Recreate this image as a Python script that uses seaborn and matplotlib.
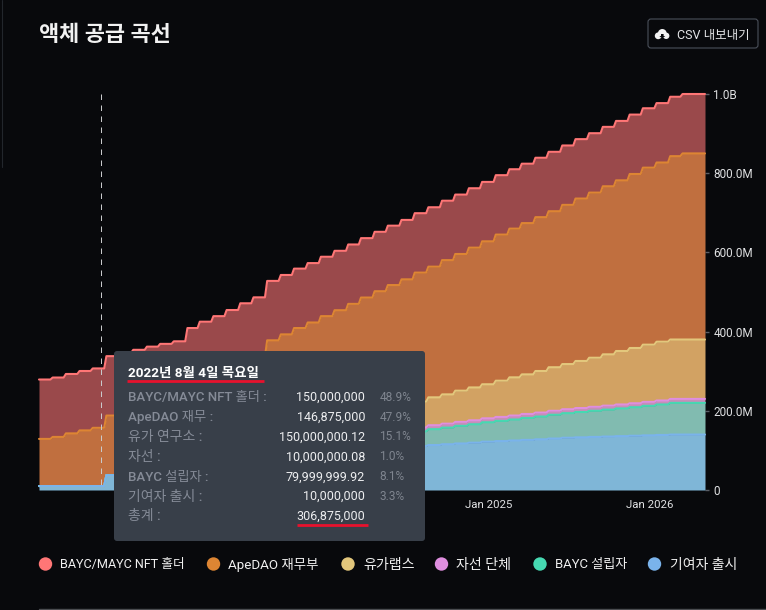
import numpy as np
import pandas as pd
import matplotlib
matplotlib.use("Agg")
import matplotlib.pyplot as plt
import matplotlib.dates as mdates
from matplotlib.patches import FancyBboxPatch, Circle, Polygon
import seaborn as sns

# monthly unlocks in millions, bottom of the stack first
contributors = [10, 10, 10, 10, 10, 37.5, 38, 38.5, 39, 39.5, 40, 62, 64, 66, 68, 70, 72,
                92, 94, 95.5, 97, 98.5, 100, 101.5, 103, 104.5, 106, 108, 111, 113.6, 115.5,
                117.5, 119.5, 122, 123.5, 125, 126.5, 128, 130, 132, 133, 134, 135, 136, 137,
                138, 139, 140, 140]
founders = [0, 0, 0, 0, 0, 0, 0, 0, 0, 0, 0, 2, 4, 6, 8, 10, 12, 14, 16, 18, 20, 22, 24, 26,
            28, 30, 32, 34.5, 37, 40, 42, 44.5, 46.5, 49, 51, 53, 55.5, 57.5, 60, 62, 64, 66,
            68, 70, 72, 74.5, 77, 80, 80]
charity = [0, 0, 0, 0, 0, 0, 0, 0, 0, 0, 0, 0, 10, 10, 10, 10, 10, 10, 10, 10, 10, 10, 10, 10,
           10, 10, 10, 10, 10, 10, 10, 10, 10, 10, 10, 10, 10, 10, 10, 10, 10, 10, 10, 10, 10,
           10, 10, 10, 10]
yuga = [0, 0, 0, 0, 0, 0, 0, 0, 0, 0, 0, 0, 0, 3, 6, 10, 14, 21, 25, 29, 33, 37, 41, 45, 49,
        53, 57, 61, 65, 70.4, 74, 78.8, 83, 86, 91.5, 96.5, 100, 105, 110, 114, 118.8, 124,
        129.6, 135, 139.6, 144.5, 148.5, 150, 150]
apedao = [119, 124, 133, 140.5, 147, 150.5, 158, 165.5, 173, 179.5, 185.5, 195, 197, 204, 212.5,
          221.5, 228.5, 241, 248, 256.5, 263, 271.5, 279, 287.5, 296, 304.5, 312.5, 318.5, 326,
          330, 339, 345.2, 353, 361, 369, 375.5, 382, 388.5, 394, 402, 410.2, 417, 424.4, 431,
          439.4, 447, 452.5, 463, 470]
nft_holders = [150] * 49

series_values = [contributors, founders, charity, yuga, apedao, nft_holders]
series_names = ["기여자 출시", "BAYC 설립자", "자선 단체", "유가랩스", "ApeDAO 재무부", "BAYC/MAYC NFT 홀더"]
line_colors = ["#7AB3EB", "#46D9B2", "#DF8EDF", "#E3C77C", "#DD8533", "#FF7676"]
fill_colors = ["#7FB6D7", "#81BBB0", "#C58FB8", "#D2A263", "#C06F3F", "#9A494B"]

ytick_values = [0, 200, 400, 600, 800, 1000]
ytick_labels = ["0", "200.0M", "400.0M", "600.0M", "800.0M", "1.0B"]
xtick_dates = ["2025-01-01", "2026-01-01"]
xtick_labels = ["Jan 2025", "Jan 2026"]

tooltip_labels = ["BAYC/MAYC NFT 홀더 :", "ApeDAO 재무 :", "유가 연구소 :", "자선 :",
                  "BAYC 설립자 :", "기여자 출시 :", "총계 :"]
tooltip_values = ["150,000,000", "146,875,000", "150,000,000.12", "10,000,000.08",
                  "79,999,999.92", "10,000,000", "306,875,000"]
tooltip_pcts = ["48.9%", "47.9%", "15.1%", "1.0%", "8.1%", "3.3%", ""]

BG = "#08090C"
sns.set_theme(style="dark")
plt.rcParams["font.family"] = ["Roboto", "Noto Sans CJK KR", "DejaVu Sans"]

# step dates: held for a month, then a short ramp up to the next level
start = pd.Timestamp("2022-03-17")
end = pd.Timestamp("2026-05-07")
months = pd.date_range(start, periods=49, freq=pd.DateOffset(months=1))
hold_ends = list(months[1:] - pd.Timedelta(days=5)) + [end]
dates = []
for a, b in zip(months, hold_ends):
    dates += [a, b]
dates = pd.to_datetime(dates)

levels = np.cumsum(np.array(series_values, dtype=float), axis=0)
step_levels = np.repeat(levels, 2, axis=1)

rows = []
for name, lev in zip(series_names, step_levels):
    rows.append(pd.DataFrame({"date": dates, "level": lev, "series": name}))
df = pd.concat(rows, ignore_index=True)

fig = plt.figure(figsize=(7.66, 6.10), dpi=100, facecolor=BG)
ax = fig.add_axes([39 / 766, (610 - 490) / 610, 666 / 766, 396 / 610], facecolor=BG)

bottom = np.zeros(len(dates))
for lev, color in zip(step_levels, fill_colors):
    ax.fill_between(dates, bottom, lev, color=color, lw=0, zorder=1)
    bottom = lev

# last in the order ends up on top, so the blue line wins where bands are empty
hue_order = series_names[::-1]
palette = dict(zip(series_names, line_colors))
sns.lineplot(data=df, x="date", y="level", hue="series", hue_order=hue_order, palette=palette,
             estimator=None, sort=False, legend=False, linewidth=1.5, ax=ax, zorder=2, clip_on=False)

ax.axvline(pd.Timestamp("2022-08-04"), color="#C9CACC", lw=0.72, linestyle=(5.5, (5.5, 5.5)), zorder=3, clip_on=False)

ax.set_xlim(start, end)
ax.set_ylim(0, 1000)
ax.set_xlabel("")
ax.set_ylabel("")
ax.grid(False)
for s in ax.spines.values():
    s.set_visible(False)
ax.yaxis.tick_right()
ax.set_yticks(ytick_values)
ax.set_yticklabels(ytick_labels)
ax.set_xticks([mdates.date2num(pd.Timestamp(d)) for d in xtick_dates])
ax.set_xticklabels(xtick_labels)
ax.tick_params(axis="both", length=3, width=1, color="#5A5E66", labelcolor="#E0E1E3", labelsize=8.5, pad=3)
ax.tick_params(axis="x", labelsize=8.2, pad=4)

# overlay in pixel coordinates for tooltip, legend and header
ov = fig.add_axes([0, 0, 1, 1], facecolor="none")
ov.set_xlim(0, 766)
ov.set_ylim(610, 0)
ov.axis("off")

ov.plot([2, 2], [0, 167], color="#22262C", lw=0.8)
ov.plot([39, 766], [608.5, 608.5], color="#4A4C50", lw=1)

ov.text(39, 35, "액체 공급 곡선", color="#F2F2F2", fontsize=15.8, fontweight="bold", va="center", ha="left")

# export button
ov.add_patch(FancyBboxPatch((648, 19), 110, 29, boxstyle="round,pad=0,rounding_size=3",
                            fc=BG, ec="#4A505A", lw=0.8))
for cx, cy, r in [(658.2, 35.8, 3.4), (662.3, 33.4, 4.4), (666.2, 35.8, 3.2)]:
    ov.add_patch(Circle((cx, cy), r, fc="#F2F2F2", ec="none"))
ov.add_patch(Polygon([[661, 34], [663.6, 34], [663.6, 36], [665.2, 36], [662.3, 38.6], [659.4, 36], [661, 36]],
                     fc=BG, ec="none"))
ov.text(677, 35, "CSV 내보내기", color="#E4E5E7", fontsize=9, va="center", ha="left")

# tooltip
ov.add_patch(FancyBboxPatch((114, 351), 311, 190, boxstyle="round,pad=0,rounding_size=3",
                            fc="#383F49", ec="none", zorder=5))
ov.text(128, 373.5, "2022년 8월 4일 목요일", color="#FFFFFF", fontsize=9.7, fontweight="bold",
        va="center", ha="left", zorder=6)
ov.plot([127, 264], [381.3, 381.3], color="#E8112D", lw=2, zorder=7, solid_capstyle="butt")
row_y = [397.5, 417.5, 437, 457, 477, 496.5, 516]
label_sizes = [9.5, 9.6, 10, 10, 9.5, 10, 10]
for y, lab, val, pct, size in zip(row_y, tooltip_labels, tooltip_values, tooltip_pcts, label_sizes):
    ov.text(128, y, lab, color="#858B97", fontsize=size, fontweight="medium", va="center", ha="left", zorder=6)
    ov.text(365, y, val, color="#EDEEF0", fontsize=9, va="center", ha="right", zorder=6)
    if pct:
        ov.text(379.5, y, pct, color="#7F858F", fontsize=8.6, va="center", ha="left", zorder=6)
ov.plot([297, 368], [525.3, 525.3], color="#E8112D", lw=2, zorder=7, solid_capstyle="butt")

# legend
legend_order = series_names[::-1]
legend_colors = line_colors[::-1]
legend_x = [45.5, 213.5, 348, 441.5, 540, 654.5]
legend_sizes = [9.1, 9.65, 10.1, 10.1, 9.45, 10]
for x, name, color, size in zip(legend_x, legend_order, legend_colors, legend_sizes):
    ov.add_patch(Circle((x, 564), 6.7, fc=color, ec="none"))
    ov.text(x + 15, 564.5, name, color="#F0F0F0", fontsize=size, va="center", ha="left")

fig.savefig("out.png", dpi=100, facecolor=BG)
